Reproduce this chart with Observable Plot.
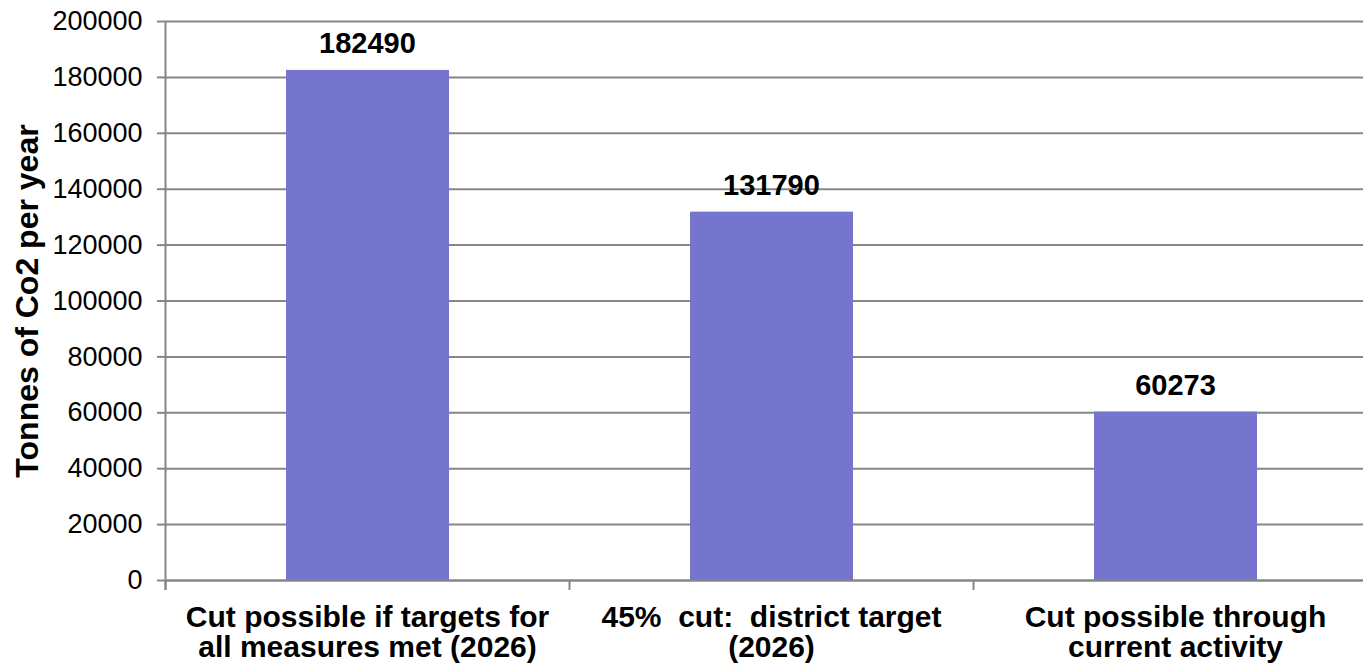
<!DOCTYPE html>
<html><head><meta charset="utf-8">
<script src="https://cdn.jsdelivr.net/npm/d3@7"></script>
<script src="https://cdn.jsdelivr.net/npm/@observablehq/plot@0.6"></script>
<style>body{margin:0;background:#fff;} svg{display:block}</style>
</head><body><div id="chart"></div>
<script>
const categories = [
  "Cut possible if targets for all measures met (2026)",
  "45% cut: district target (2026)",
  "Cut possible through current activity"
];
const tickLabels = [
  "Cut possible if targets for\nall measures met (2026)",
  "45%\u00a0 cut:\u00a0 district target\n(2026)",
  "Cut possible through\ncurrent activity"
];
const values = [182490, 131790, 60273];
const yTicks = [0, 20000, 40000, 60000, 80000, 100000, 120000, 140000, 160000, 180000, 200000];
const yTitle = "Tonnes of Co2 per year";

const data = categories.map((c, i) => ({category: c, value: values[i]}));
const font = '"Liberation Sans", Arial, Helvetica, sans-serif';
const gray = "#868686";
const barColor = "#7575CE";

const chart = Plot.plot({
  width: 1363, height: 672,
  marginLeft: 165, marginRight: 0, marginTop: 21, marginBottom: 92,
  style: {fontFamily: font, background: "#fff", color: "#000"},
  x: {type: "band", domain: categories, range: [165, 1377], padding: 0},
  y: {domain: [0, 200000], range: [580, 21]},
  marks: [
    Plot.gridY(yTicks, {stroke: gray, strokeOpacity: 1, strokeWidth: 2}),
    Plot.barY(data, {x: "category", y: "value", fill: barColor, insetLeft: 121, insetRight: 120}),
    Plot.ruleY([0], {stroke: gray, strokeWidth: 2}),
    Plot.ruleX([categories[0]], {dx: -202, stroke: gray, strokeWidth: 2, insetBottom: -10}),
    Plot.axisX({tickSize: 10, tickFormat: () => "", dx: -202, stroke: gray, strokeWidth: 2, label: null}),
    Plot.axisX({tickSize: 0, tickPadding: 25, tickFormat: d => tickLabels[categories.indexOf(d)],
      fontSize: 30, fontWeight: "bold", lineHeight: 1.0, fill: "#000", label: null}),
    Plot.axisY(yTicks, {tickSize: 8, tickPadding: 15, stroke: gray, strokeWidth: 2,
      fontSize: 27, fill: "#000", label: null, tickFormat: d => String(d)}),
    Plot.text(data, {x: "category", y: "value", text: d => String(d.value), dy: -17,
      lineAnchor: "bottom", fontSize: 29, fontWeight: "bold", fill: "#000"}),
    Plot.text([yTitle], {frameAnchor: "left", rotate: -90, dx: -138, textAnchor: "middle",
      lineAnchor: "middle", fontSize: 32, fontWeight: "bold", fill: "#000"})
  ]
});
document.getElementById("chart").appendChild(chart);
</script>
</body></html>
